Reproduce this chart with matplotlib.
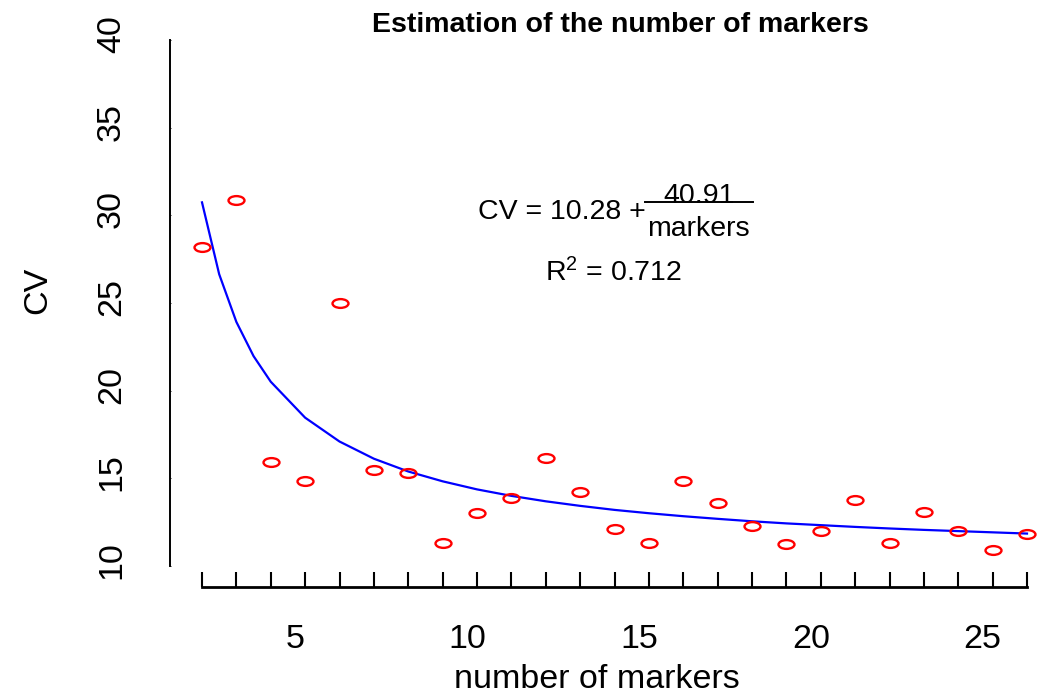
import matplotlib.pyplot as plt
import matplotlib.transforms as mtransforms
from matplotlib.path import Path

plt.rcParams['font.family'] = ['Liberation Sans', 'DejaVu Sans']
plt.rcParams['mathtext.fontset'] = 'custom'
plt.rcParams['mathtext.rm'] = 'Liberation Sans'
plt.rcParams['mathtext.it'] = 'Liberation Sans:italic'

# observed CV per number of markers
markers = [2, 3, 4, 5, 6, 7, 8, 9, 10, 11, 12, 13, 14, 15, 16, 17, 18, 19, 20,
           21, 22, 23, 24, 25, 26]
cv = [28.2, 30.9, 15.95, 14.83, 25.0, 15.49, 15.29, 11.33, 13.0, 13.9, 16.14,
      14.2, 12.09, 11.33, 14.83, 13.59, 12.28, 11.25, 12.01, 13.75, 11.33, 13.1,
      12.0, 10.9, 11.84]

# fitted curve CV = 10.28 + 40.91 / markers
fit_x = [2, 2.5, 3, 3.5, 4, 5, 6, 7, 8, 9, 10, 11, 12, 13, 14, 15, 16, 17, 18,
         19, 20, 21, 22, 23, 24, 25, 26]
fit_y = [30.74, 26.64, 23.92, 21.97, 20.51, 18.46, 17.10, 16.12, 15.39, 14.83,
         14.37, 14.00, 13.69, 13.43, 13.20, 13.01, 12.84, 12.69, 12.55, 12.43,
         12.33, 12.23, 12.14, 12.06, 11.99, 11.92, 11.85]

x_ticks = list(range(2, 27))
x_labels = [str(t) if t % 5 == 0 else '' for t in x_ticks]
y_ticks = [10, 15, 20, 25, 30, 35, 40]

W, H = 1037, 696
fig = plt.figure(figsize=(W / 100, H / 100), dpi=100)
ax = fig.add_axes([202 / W, 130 / H, 825 / W, 526 / H])

# ellipse marker (R device was stretched)
circ = Path.unit_circle()
ellipse = Path(circ.vertices * [1.0, 0.55], circ.codes)

ax.plot(fit_x, fit_y, color='#0000FF', lw=1.6, clip_on=False)
ax.plot(markers, cv, ls='none', marker=ellipse, markersize=11.5,
        markerfacecolor='none', markeredgecolor='#FF0000', markeredgewidth=1.7,
        clip_on=False)

ax.set_xlim(2, 26)
ax.set_ylim(10, 40)

for s in ['top', 'right']:
    ax.spines[s].set_visible(False)
ax.spines['left'].set_position(('outward', 23))
ax.spines['bottom'].set_position(('outward', 15))
ax.spines['left'].set_bounds(10, 40)
ax.spines['bottom'].set_bounds(2, 26)
ax.spines['left'].set_linewidth(1.4)
ax.spines['bottom'].set_linewidth(2)

ax.set_xticks(x_ticks)
ax.set_xticklabels(x_labels)
ax.set_yticks(y_ticks)
ax.set_yticklabels([str(t) for t in y_ticks])
ax.tick_params(axis='x', direction='in', length=11, width=1.5, pad=27,
               labelsize=24.5)
ax.tick_params(axis='y', direction='in', length=1, width=0.6, pad=31,
               labelsize=24.5, labelrotation=90)

dx = mtransforms.ScaledTranslation(-0.10, 0, fig.dpi_scale_trans)
for lab in ax.get_xticklabels():
    lab.set_transform(lab.get_transform() + dx)
dy = mtransforms.ScaledTranslation(0, 0.06, fig.dpi_scale_trans)
for lab in ax.get_yticklabels():
    lab.set_verticalalignment('center')
    lab.set_transform(lab.get_transform() + dy)


def fx(px):
    return px / W


def fy(py):
    return 1 - py / H


fig.text(fx(620), fy(25), 'Estimation of the number of markers',
         fontsize=20.5, fontweight='bold', ha='center', va='center')
fig.text(fx(597), fy(680), 'number of markers', fontsize=24.5,
         ha='center', va='center')
fig.text(fx(38), fy(290), 'CV', fontsize=24.5, rotation=90,
         ha='center', va='center')

# fitted equation
fig.text(fx(478), fy(212), 'CV = 10.28 +', fontsize=20.5, ha='left',
         va='center')
fig.text(fx(699), fy(203), '40.91', fontsize=20.5, ha='center',
         va='baseline')
fig.add_artist(plt.Line2D([fx(645), fx(753)], [fy(202), fy(202)],
                          color='black', lw=1.4))
fig.text(fx(698), fy(236), 'markers', fontsize=20.5, ha='center',
         va='baseline')
fig.text(fx(614), fy(273), r'R$^2$ = 0.712', fontsize=20.5, ha='center',
         va='center')

plt.savefig('out.png', dpi=100)
